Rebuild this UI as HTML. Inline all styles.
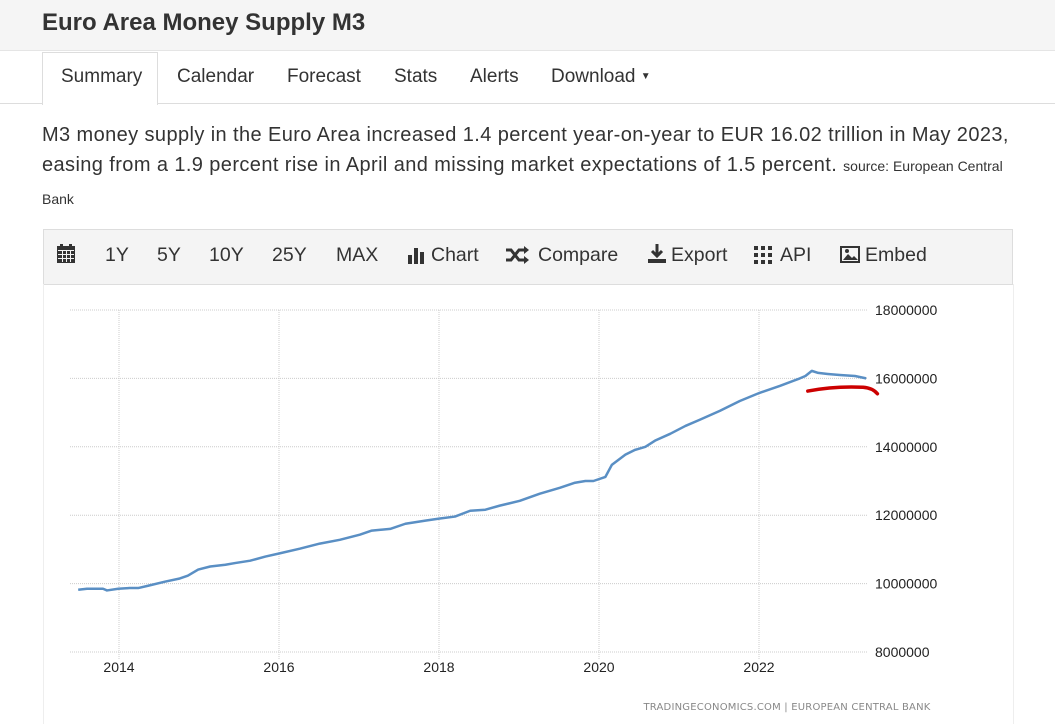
<!DOCTYPE html>
<html><head><meta charset="utf-8"><style>
body{margin:0;width:1055px;height:718px;overflow:hidden;background:#fff;font-family:"Liberation Sans",sans-serif;color:#333;position:relative}
.abs{position:absolute}
#hdr{left:0;top:0;width:1055px;height:50px;background:#f5f5f5;border-bottom:1px solid #e5e5e5}
#title{left:42px;top:9px;font-size:24px;font-weight:bold;color:#333}
#tabline{left:0;top:103px;width:1055px;height:1px;background:#ddd}
.tab{top:66px;font-size:19px;color:#333}
#active{left:42px;top:52px;width:114px;height:52px;border:1px solid #ddd;border-bottom:none;background:#fff}
#desc{left:42px;top:120px;width:990px;font-size:20px;line-height:30px;color:#333;letter-spacing:0.4px}
#desc small{font-size:14px;letter-spacing:0}
#bank{left:42px;top:191px;font-size:14px}
#tool{left:43px;top:229px;width:968px;height:54px;background:#f4f4f4;border:1px solid #ddd}
.tb{top:244px;font-size:19.5px;color:#333}
#chartbox{left:43px;top:284px;width:969px;height:440px;border-left:1px solid #eee;border-right:1px solid #eee}
</style></head><body>
<div id="hdr" class="abs"></div>
<div id="title" class="abs">Euro Area Money Supply M3</div>
<div id="tabline" class="abs"></div>
<div id="active" class="abs"></div>
<div class="abs tab" style="left:61px">Summary</div>
<div class="abs tab" style="left:177px">Calendar</div>
<div class="abs tab" style="left:287px">Forecast</div>
<div class="abs tab" style="left:394px">Stats</div>
<div class="abs tab" style="left:470px">Alerts</div>
<div class="abs tab" style="left:551px">Download <span style="font-size:10px;position:relative;top:-3px">▼</span></div>
<div id="desc" class="abs">M3 money supply in the Euro Area increased 1.4 percent year-on-year to EUR 16.02 trillion in May 2023, easing from a 1.9 percent rise in April and missing market expectations of 1.5 percent. <small>source: European Central</small></div>
<div id="bank" class="abs">Bank</div>
<div id="tool" class="abs"></div>
<svg class="abs" style="left:57px;top:244px" width="19" height="20"><rect x="0" y="2" width="18" height="17" fill="#333"/><rect x="3" y="0" width="3" height="4" fill="#333"/><rect x="12" y="0" width="3" height="4" fill="#333"/><g fill="#f4f4f4"><rect x="1" y="6" width="16" height="1"/><rect x="1" y="10" width="16" height="1"/><rect x="1" y="14" width="16" height="1"/><rect x="5" y="6" width="1" height="12"/><rect x="9" y="6" width="1" height="12"/><rect x="13" y="6" width="1" height="12"/></g></svg>
<div class="abs tb" style="left:105px">1Y</div>
<div class="abs tb" style="left:157px">5Y</div>
<div class="abs tb" style="left:209px">10Y</div>
<div class="abs tb" style="left:272px">25Y</div>
<div class="abs tb" style="left:336px">MAX</div>
<svg class="abs" style="left:408px;top:246px" width="20" height="18"><rect x="0" y="9" width="4" height="9" fill="#333"/><rect x="6" y="2" width="4" height="16" fill="#333"/><rect x="12" y="6" width="4" height="12" fill="#333"/></svg>
<div class="abs tb" style="left:431px">Chart</div>
<svg class="abs" style="left:506px;top:246px" width="24" height="18"><path d="M0 4h5l8 10h6M0 14h5l8-10h6" fill="none" stroke="#333" stroke-width="3"/><path d="M18 0l5 4-5 4zM18 10l5 4-5 4z" fill="#333"/></svg>
<div class="abs tb" style="left:538px">Compare</div>
<svg class="abs" style="left:648px;top:244px" width="18" height="20"><path d="M9 0v11M4 7l5 5 5-5" fill="none" stroke="#333" stroke-width="3"/><rect x="0" y="15" width="18" height="4" fill="#333"/></svg>
<div class="abs tb" style="left:671px">Export</div>
<svg class="abs" style="left:754px;top:246px" width="18" height="18"><g fill="#333"><rect x="0" y="0" width="4" height="4"/><rect x="7" y="0" width="4" height="4"/><rect x="14" y="0" width="4" height="4"/><rect x="0" y="7" width="4" height="4"/><rect x="7" y="7" width="4" height="4"/><rect x="14" y="7" width="4" height="4"/><rect x="0" y="14" width="4" height="4"/><rect x="7" y="14" width="4" height="4"/><rect x="14" y="14" width="4" height="4"/></g></svg>
<div class="abs tb" style="left:780px">API</div>
<svg class="abs" style="left:840px;top:246px" width="20" height="17"><rect x="1" y="1" width="18" height="15" fill="none" stroke="#333" stroke-width="2"/><path d="M3 14l5-6 4 4 2-2 4 4z" fill="#333"/><circle cx="7" cy="5" r="2" fill="#333"/></svg>
<div class="abs tb" style="left:865px">Embed</div>
<div id="chartbox" class="abs"></div>
<svg id="chart" class="abs" style="left:0;top:0" width="1055" height="718"></svg>
<script>
const years=[2013.49,2013.6,2013.8,2013.85,2013.99,2014.13,2014.24,2014.37,2014.58,2014.76,2014.86,2014.99,2015.14,2015.33,2015.45,2015.64,2015.83,2016.0,2016.26,2016.51,2016.76,2017.01,2017.16,2017.39,2017.58,2017.83,2018.0,2018.2,2018.39,2018.58,2018.76,2019.01,2019.26,2019.51,2019.7,2019.83,2019.93,2020.08,2020.16,2020.33,2020.45,2020.58,2020.7,2020.89,2021.08,2021.26,2021.51,2021.76,2022.01,2022.26,2022.51,2022.58,2022.66,2022.74,2022.86,2023.01,2023.2,2023.34];
const values=[9.82,9.85,9.85,9.80,9.85,9.87,9.87,9.94,10.06,10.15,10.23,10.41,10.5,10.55,10.6,10.67,10.79,10.88,11.02,11.17,11.28,11.43,11.55,11.6,11.75,11.84,11.9,11.96,12.13,12.16,12.28,12.42,12.63,12.8,12.95,13.0,13.0,13.12,13.47,13.77,13.91,14.0,14.18,14.38,14.61,14.79,15.05,15.34,15.58,15.78,16.0,16.07,16.22,16.16,16.13,16.1,16.07,16.0];
const yTicks=[8000000,10000000,12000000,14000000,16000000,18000000];
const xTicks=[2014,2016,2018,2020,2022];
const xs=y=>119+(y-2014)*80;
const ys=v=>652-(v-8)*34.2;
const svg=document.getElementById('chart');
const NS='http://www.w3.org/2000/svg';
function mk(t,a){const e=document.createElementNS(NS,t);for(const k in a)e.setAttribute(k,a[k]);svg.appendChild(e);return e;}
yTicks.forEach(t=>{const y=ys(t/1e6);
 const l=mk('line',{x1:70,x2:868,y1:y,y2:y,stroke:'#ccc','stroke-dasharray':'1,1'});
 
 
 const tx=mk('text',{x:875,y:y+5,'font-size':'14','font-family':'Liberation Sans, sans-serif',fill:'#222'});tx.textContent=t;
 
 });
xTicks.forEach(t=>{const x=xs(t);
 const l=mk('line',{x1:x,x2:x,y1:310,y2:660,stroke:'#ccc','stroke-dasharray':'1,1'});
 
 
 const tx=mk('text',{x:x,y:672,'font-size':'14','text-anchor':'middle','font-family':'Liberation Sans, sans-serif',fill:'#222'});tx.textContent=t;
 
 });
const p=mk('polyline',{points:years.map((y,i)=>xs(y)+','+ys(values[i])).join(' '),fill:'none',stroke:'#5a8fc4','stroke-width':'2.5','stroke-linejoin':'round'});


const a=mk('path',{d:`M${xs(2022.61)},${ys(15.63)} Q${xs(2022.95)},${ys(15.78)} ${xs(2023.3)},${ys(15.74)} Q${xs(2023.42)},${ys(15.72)} ${xs(2023.48)},${ys(15.55)}`,fill:'none',stroke:'#c00','stroke-width':'3.5','stroke-linecap':'round'});


const f=mk('text',{x:787,y:710,'font-size':'10','text-anchor':'middle','font-family':'DejaVu Sans, sans-serif',fill:'#888','letter-spacing':'0.2'});f.textContent='TRADINGECONOMICS.COM  |  EUROPEAN CENTRAL BANK';


</script>
</body></html>
